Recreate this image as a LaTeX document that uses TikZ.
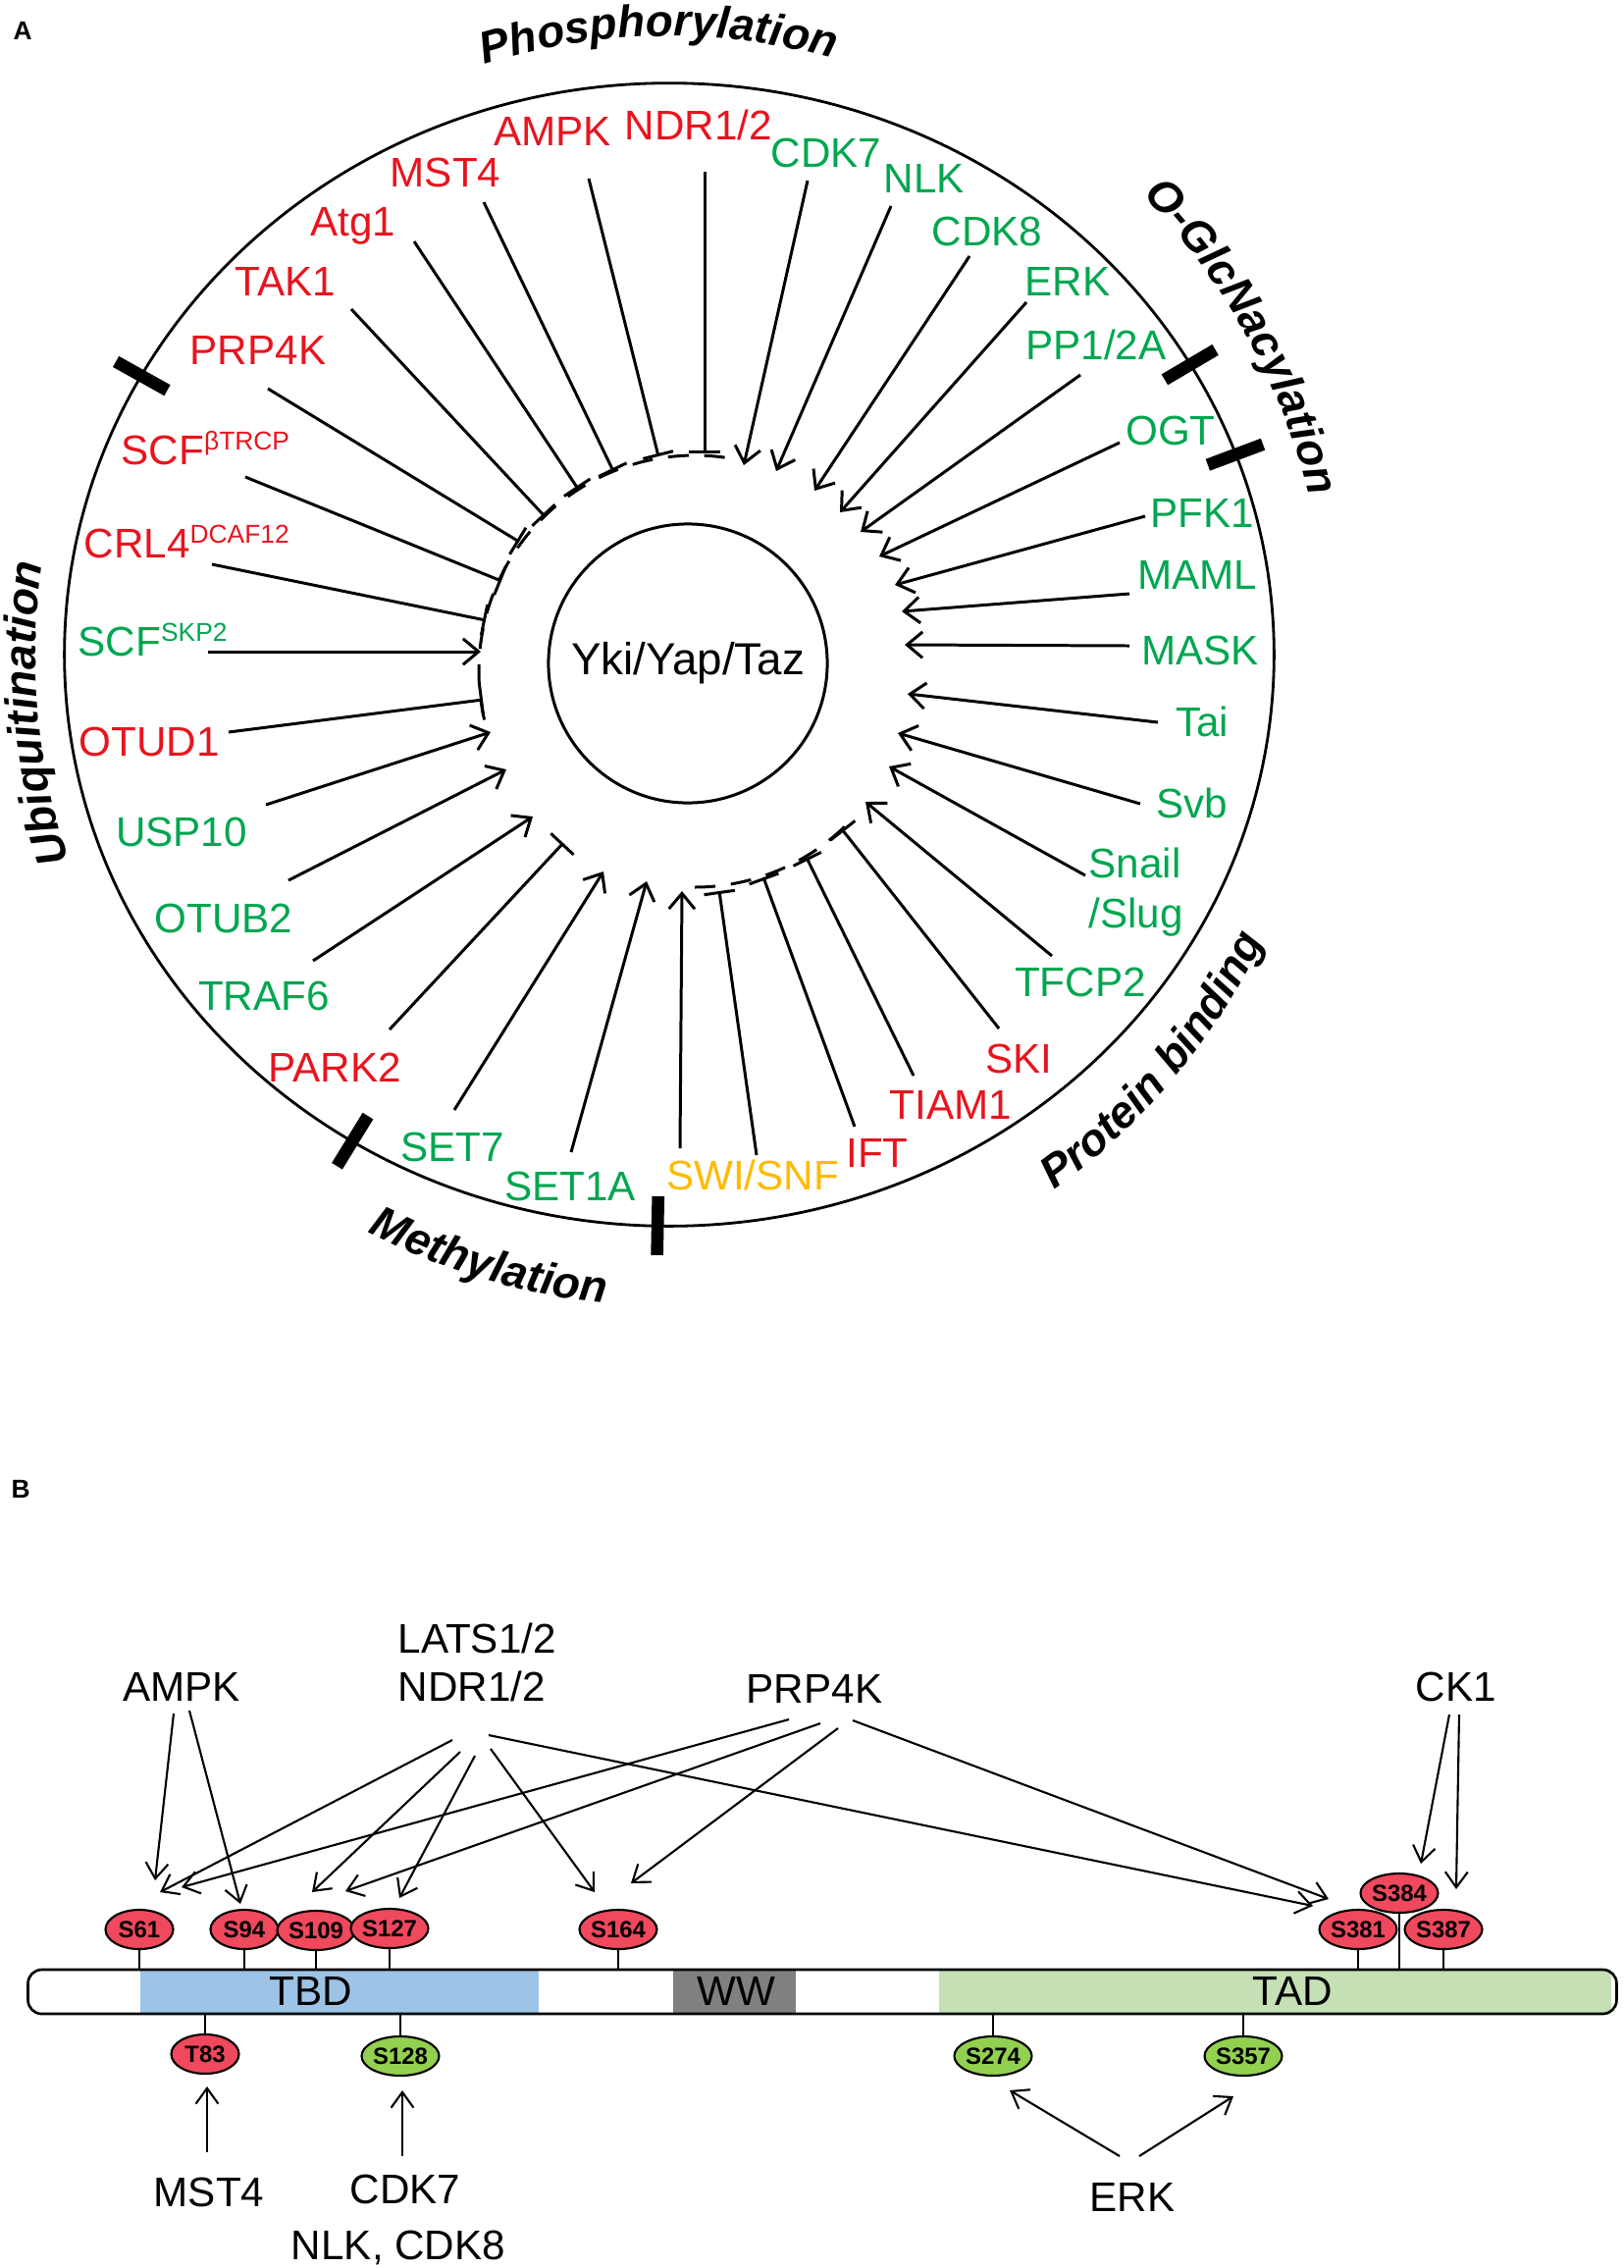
\documentclass[tikz,border=0pt]{standalone}
\usepackage{fontspec}
\setmainfont{Liberation Sans}
\usetikzlibrary{arrows.meta, shapes.geometric, decorations.text, calc}
\definecolor{kinred}{RGB}{232,20,30}
\definecolor{kingreen}{RGB}{0,166,80}
\definecolor{kinyellow}{RGB}{255,186,0}
\definecolor{sitered}{RGB}{240,72,92}
\definecolor{sitegreen}{RGB}{146,208,80}
\definecolor{tbdblue}{RGB}{157,195,230}
\definecolor{wwgray}{RGB}{128,128,128}
\definecolor{tadgreen}{RGB}{197,224,180}

\begin{document}
\begin{tikzpicture}[
  x=0.01cm, y=-0.01cm,
  lab/.style={font=\fontsize{12}{14}\selectfont, inner sep=0pt, anchor=base},
  act/.style={line width=0.85pt, -{Straight Barb[length=4.5pt, width=7.5pt]}},
  inh/.style={line width=0.85pt, -{Bar[width=9pt]}},
  ring/.style={line width=0.85pt, dash pattern=on 6pt off 4.5pt},
  tickmark/.style={line width=3.6pt},
  cat/.style={decorate, decoration={text along path, text align=center,
    text={|\bfseries\itshape\fontsize{13}{13}\selectfont|#1}}},
  actb/.style={line width=0.6pt, -{Straight Barb[length=4.5pt, width=6.5pt]}},
  site/.style={ellipse, draw, line width=0.6pt, minimum width=0.69cm, minimum height=0.40cm,
    inner sep=0pt, font=\bfseries\fontsize{6.8}{7}\selectfont},
  stem/.style={line width=0.75pt}
]
\useasboundingbox (0,0) rectangle (1655,2311);

\coordinate (oc) at (682,667);
\coordinate (rc) at (708,684);

\node[font=\bfseries\fontsize{7.5}{8}\selectfont, inner sep=0pt, anchor=base west] (panela) at (13,40) {A};
\node[font=\bfseries\fontsize{7.5}{8}\selectfont, inner sep=0pt, anchor=base west] (panelb) at (11,1526) {B};

\draw[line width=0.8pt] (oc) ellipse [x radius=6.16cm, y radius=5.82cm];
\node[circle, draw, line width=0.85pt, minimum size=2.84cm, inner sep=0pt,
  font=\fontsize{13}{15}\selectfont] (yki) at (701,676) {Yki/Yap/Taz};

\begin{scope}[y=0.01cm]
  \draw[ring] (rc) ++(82:220) arc[start angle=82, end angle=193, radius=220];
  \draw[ring] (rc) ++(270:220) arc[start angle=270, end angle=318, radius=220];
  \draw[tickmark] ($(oc)+(150.8:586 and 552)$) -- ($(oc)+(150.8:646 and 612)$);
  \draw[tickmark] ($(oc)+(30.5:586 and 552)$) -- ($(oc)+(30.5:646 and 612)$);
  \draw[tickmark] ($(oc)+(20.5:586 and 552)$) -- ($(oc)+(20.5:646 and 612)$);
  \draw[tickmark] ($(oc)+(238.4:586 and 552)$) -- ($(oc)+(238.4:646 and 612)$);
  \draw[tickmark] ($(oc)+(268.9:586 and 552)$) -- ($(oc)+(268.9:646 and 612)$);
  \path[cat=Phosphorylation] (oc) ++(121:630) arc[start angle=121, end angle=61, radius=630];
  \path[cat=O-GlcNacylation] (oc) ++(59:672) arc[start angle=59, end angle=-1, radius=672];
  \path[cat=Ubiquitination] (oc) ++(215.3:646) arc[start angle=215.3, end angle=155.3, radius=646];
  \path[cat=Methylation] (oc) ++(223.4:664) arc[start angle=223.4, end angle=283.4, radius=664];
  \path[cat=Protein binding] (oc) ++(290:672) arc[start angle=290, end angle=350, radius=672];
\end{scope}

\node[lab, text=kinred] (ndr) at (712,142) {NDR1/2};
\node[lab, text=kinred] (ampk) at (563,148) {AMPK};
\node[lab, text=kinred] (mst4) at (454,190) {MST4};
\node[lab, text=kinred] (atg1) at (360,240) {Atg1};
\node[lab, text=kinred] (tak1) at (291,301) {TAK1};
\node[lab, text=kinred] (prp4k) at (263,371) {PRP4K};
\node[lab, text=kinred, anchor=base west] (scfb) at (123,473) {SCF\raisebox{4pt}{\fontsize{7.5}{8}\selectfont βTRCP}};
\node[lab, text=kinred, anchor=base west] (crl4) at (85,568) {CRL4\raisebox{4pt}{\fontsize{7.5}{8}\selectfont DCAF12}};
\node[lab, text=kingreen, anchor=base west] (scfs) at (79,668) {SCF\raisebox{4pt}{\fontsize{7.5}{8}\selectfont SKP2}};
\node[lab, text=kinred] (otud1) at (152,770) {OTUD1};
\node[lab, text=kingreen] (usp10) at (185,862) {USP10};
\node[lab, text=kingreen] (otub2) at (228,950) {OTUB2};
\node[lab, text=kingreen] (traf6) at (269,1029) {TRAF6};
\node[lab, text=kinred] (park2) at (341,1102) {PARK2};
\node[lab, text=kingreen] (set7) at (461,1183) {SET7};
\node[lab, text=kingreen] (set1a) at (581,1223) {SET1A};
\node[lab, text=kinyellow] (swi) at (767,1212) {SWI/SNF};
\node[lab, text=kinred] (ift) at (894,1189) {IFT};
\node[lab, text=kinred] (tiam1) at (969,1140) {TIAM1};
\node[lab, text=kinred] (ski) at (1038,1093) {SKI};
\node[lab, text=kingreen] (tfcp2) at (1101,1015) {TFCP2};
\node[lab, text=kingreen, anchor=base west] (snail) at (1109,894) {Snail};
\node[lab, text=kingreen, anchor=base west] (slug) at (1109,945) {/Slug};
\node[lab, text=kingreen] (svb) at (1215,833) {Svb};
\node[lab, text=kingreen] (tai) at (1225,750) {Tai};
\node[lab, text=kingreen] (mask) at (1223,677) {MASK};
\node[lab, text=kingreen] (maml) at (1220,600) {MAML};
\node[lab, text=kingreen] (pfk1) at (1225,537) {PFK1};
\node[lab, text=kingreen] (ogt) at (1193,453) {OGT};
\node[lab, text=kingreen] (pp12a) at (1117,366) {PP1/2A};
\node[lab, text=kingreen] (erk) at (1088,301) {ERK};
\node[lab, text=kingreen] (cdk8) at (1006,250) {CDK8};
\node[lab, text=kingreen] (nlk) at (942,196) {NLK};
\node[lab, text=kingreen] (cdk7) at (842,170) {CDK7};

\coordinate (ndr-o) at (718,175); \coordinate (ndr-i) at (718,462);
\coordinate (ampk-o) at (600,182); \coordinate (ampk-i) at (671,465);
\coordinate (mst4-o) at (493,206); \coordinate (mst4-i) at (625,480);
\coordinate (atg1-o) at (422,246); \coordinate (atg1-i) at (589,498);
\coordinate (tak1-o) at (358,315); \coordinate (tak1-i) at (555,526);
\coordinate (prp4k-o) at (273,396); \coordinate (prp4k-i) at (529,552);
\coordinate (scfb-o) at (250,486); \coordinate (scfb-i) at (511,592);
\coordinate (crl4-o) at (216,575); \coordinate (crl4-i) at (495,632);
\coordinate (scfs-o) at (212,664); \coordinate (scfs-i) at (490,664);
\coordinate (otud1-o) at (233,746); \coordinate (otud1-i) at (492,713);
\coordinate (usp10-o) at (271,820); \coordinate (usp10-i) at (500,746);
\coordinate (otub2-o) at (294,897); \coordinate (otub2-i) at (516,784);
\coordinate (traf6-o) at (319,979); \coordinate (traf6-i) at (543,832);
\coordinate (park2-o) at (397,1049); \coordinate (park2-i) at (574,859);
\coordinate (set7-o) at (463,1131); \coordinate (set7-i) at (615,888);
\coordinate (set1a-o) at (582,1174); \coordinate (set1a-i) at (659,898);
\coordinate (swia-o) at (693,1170); \coordinate (swia-i) at (695,908);
\coordinate (swib-o) at (771,1177); \coordinate (swib-i) at (733,908);
\coordinate (ift-o) at (871,1148); \coordinate (ift-i) at (778,894);
\coordinate (tiam1-o) at (931,1096); \coordinate (tiam1-i) at (822,874);
\coordinate (ski-o) at (1018,1048); \coordinate (ski-i) at (858,845);
\coordinate (tfcp2-o) at (1072,974); \coordinate (tfcp2-i) at (882,817);
\coordinate (snail-o) at (1106,892); \coordinate (snail-i) at (906,781);
\coordinate (svb-o) at (1162,819); \coordinate (svb-i) at (915,747);
\coordinate (tai-o) at (1180,736); \coordinate (tai-i) at (925,707);
\coordinate (mask-o) at (1151,658); \coordinate (mask-i) at (922,657);
\coordinate (maml-o) at (1151,605); \coordinate (maml-i) at (919,623);
\coordinate (pfk1-o) at (1167,526); \coordinate (pfk1-i) at (912,596);
\coordinate (ogt-o) at (1141,451); \coordinate (ogt-i) at (896,567);
\coordinate (pp12a-o) at (1101,382); \coordinate (pp12a-i) at (877,542);
\coordinate (erk-o) at (1046,308); \coordinate (erk-i) at (856,522);
\coordinate (cdk8-o) at (988,261); \coordinate (cdk8-i) at (830,500);
\coordinate (nlk-o) at (908,210); \coordinate (nlk-i) at (791,480);
\coordinate (cdk7-o) at (823,184); \coordinate (cdk7-i) at (758,474);

\draw[inh] (ndr-o) -- (ndr-i);
\draw[inh] (ampk-o) -- (ampk-i);
\draw[inh] (mst4-o) -- (mst4-i);
\draw[inh] (atg1-o) -- (atg1-i);
\draw[inh] (tak1-o) -- (tak1-i);
\draw[inh] (prp4k-o) -- (prp4k-i);
\draw[inh] (scfb-o) -- (scfb-i);
\draw[inh] (crl4-o) -- (crl4-i);
\draw[act] (scfs-o) -- (scfs-i);
\draw[inh] (otud1-o) -- (otud1-i);
\draw[act] (usp10-o) -- (usp10-i);
\draw[act] (otub2-o) -- (otub2-i);
\draw[act] (traf6-o) -- (traf6-i);
\draw[inh] (park2-o) -- (park2-i);
\draw[act] (set7-o) -- (set7-i);
\draw[act] (set1a-o) -- (set1a-i);
\draw[act] (swia-o) -- (swia-i);
\draw[inh] (swib-o) -- (swib-i);
\draw[inh] (ift-o) -- (ift-i);
\draw[inh] (tiam1-o) -- (tiam1-i);
\draw[inh] (ski-o) -- (ski-i);
\draw[act] (tfcp2-o) -- (tfcp2-i);
\draw[act] (snail-o) -- (snail-i);
\draw[act] (svb-o) -- (svb-i);
\draw[act] (tai-o) -- (tai-i);
\draw[act] (mask-o) -- (mask-i);
\draw[act] (maml-o) -- (maml-i);
\draw[act] (pfk1-o) -- (pfk1-i);
\draw[act] (ogt-o) -- (ogt-i);
\draw[act] (pp12a-o) -- (pp12a-i);
\draw[act] (erk-o) -- (erk-i);
\draw[act] (cdk8-o) -- (cdk8-i);
\draw[act] (nlk-o) -- (nlk-i);
\draw[act] (cdk7-o) -- (cdk7-i);

\fill[tbdblue] (143,2007) rectangle (549,2052);
\fill[wwgray] (686,2007) rectangle (811,2052);
\fill[tadgreen] (957,2007) rectangle (1642,2052);
\node[draw, line width=0.75pt, rounded corners=4pt, minimum width=16.18cm, minimum height=0.45cm,
  inner sep=0pt] (prot) at (838,2029.5) {};
\node[lab] (tbd) at (317,2043) {TBD};
\node[lab] (ww) at (750,2043) {WW};
\node[lab] (tad) at (1317,2043) {TAD};

\node[site, fill=sitered] (s61) at (142,1966) {S61};
\node[site, fill=sitered] (s94) at (249,1966) {S94};
\node[site, fill=sitered] (s109) at (322,1967) {S109};
\node[site, fill=sitered] (s127) at (397,1965) {S127};
\node[site, fill=sitered] (s164) at (630,1966) {S164};
\node[site, fill=sitered] (s381) at (1384,1966) {S381};
\node[site, fill=sitered] (s384) at (1426,1929) {S384};
\node[site, fill=sitered] (s387) at (1471,1966) {S387};
\node[site, fill=sitered] (t83) at (209,2093) {T83};
\node[site, fill=sitegreen] (s128) at (408,2095) {S128};
\node[site, fill=sitegreen] (s274) at (1012,2095) {S274};
\node[site, fill=sitegreen] (s357) at (1267,2095) {S357};

\draw[stem] (s61.south) -- (s61.south |- prot.north);
\draw[stem] (s94.south) -- (s94.south |- prot.north);
\draw[stem] (s109.south) -- (s109.south |- prot.north);
\draw[stem] (s127.south) -- (s127.south |- prot.north);
\draw[stem] (s164.south) -- (s164.south |- prot.north);
\draw[stem] (s381.south) -- (s381.south |- prot.north);
\draw[stem] (s384.south) -- (s384.south |- prot.north);
\draw[stem] (s387.south) -- (s387.south |- prot.north);
\draw[stem] (t83.north) -- (t83.north |- prot.south);
\draw[stem] (s128.north) -- (s128.north |- prot.south);
\draw[stem] (s274.north) -- (s274.north |- prot.south);
\draw[stem] (s357.north) -- (s357.north |- prot.south);

\node[lab] (ampkb) at (185,1733) {AMPK};
\node[lab, anchor=base west] (lats) at (405,1684) {LATS1/2};
\node[lab, anchor=base west] (ndrb) at (405,1733) {NDR1/2};
\node[lab] (prp4kb) at (830,1735) {PRP4K};
\node[lab] (ck1) at (1484,1733) {CK1};
\node[lab] (mst4b) at (213,2248) {MST4};
\node[lab] (cdk7b) at (413,2245) {CDK7};
\node[lab] (nlkb) at (406,2302) {NLK, CDK8};
\node[lab] (erkb) at (1154,2253) {ERK};

\coordinate (ampkb-a) at (177,1746); \coordinate (ampkb-b) at (193,1743);
\coordinate (lats-a) at (461,1773); \coordinate (lats-b) at (469,1785);
\coordinate (lats-c) at (484,1789); \coordinate (lats-d) at (500,1782);
\coordinate (lats-e) at (498,1768);
\coordinate (prp4kb-a) at (804,1752); \coordinate (prp4kb-b) at (836,1756);
\coordinate (prp4kb-c) at (854,1761); \coordinate (prp4kb-d) at (869,1753);
\coordinate (ck1-a) at (1477,1747); \coordinate (ck1-b) at (1487,1747);
\coordinate (mst4b-a) at (211,2193); \coordinate (cdk7b-a) at (410,2197);
\coordinate (erkb-a) at (1141,2197); \coordinate (erkb-b) at (1161,2197);
\coordinate (s61-t1) at (158,1916); \coordinate (s61-t2) at (163,1928);
\coordinate (s61-t3) at (185,1923); \coordinate (s94-t) at (245,1940);
\coordinate (s109-t1) at (318,1928); \coordinate (s109-t2) at (352,1927);
\coordinate (s127-t) at (407,1934);
\coordinate (s164-t1) at (606,1928); \coordinate (s164-t2) at (643,1919);
\coordinate (s381-t1) at (1338,1942); \coordinate (s381-t2) at (1354,1935);
\coordinate (s384-t) at (1448,1899); \coordinate (s387-t) at (1484,1925);
\coordinate (t83-t) at (211,2126); \coordinate (s128-t) at (410,2130);
\coordinate (s274-t) at (1029,2130); \coordinate (s357-t) at (1257,2136);

\draw[actb] (ampkb-a) -- (s61-t1);
\draw[actb] (ampkb-b) -- (s94-t);
\draw[actb] (lats-a) -- (s61-t2);
\draw[actb] (lats-b) -- (s109-t1);
\draw[actb] (lats-c) -- (s127-t);
\draw[actb] (lats-d) -- (s164-t1);
\draw[actb] (lats-e) -- (s381-t1);
\draw[actb] (prp4kb-a) -- (s61-t3);
\draw[actb] (prp4kb-b) -- (s109-t2);
\draw[actb] (prp4kb-c) -- (s164-t2);
\draw[actb] (prp4kb-d) -- (s381-t2);
\draw[actb] (ck1-a) -- (s384-t);
\draw[actb] (ck1-b) -- (s387-t);
\draw[actb] (mst4b-a) -- (t83-t);
\draw[actb] (cdk7b-a) -- (s128-t);
\draw[actb] (erkb-a) -- (s274-t);
\draw[actb] (erkb-b) -- (s357-t);

\end{tikzpicture}
\end{document}
